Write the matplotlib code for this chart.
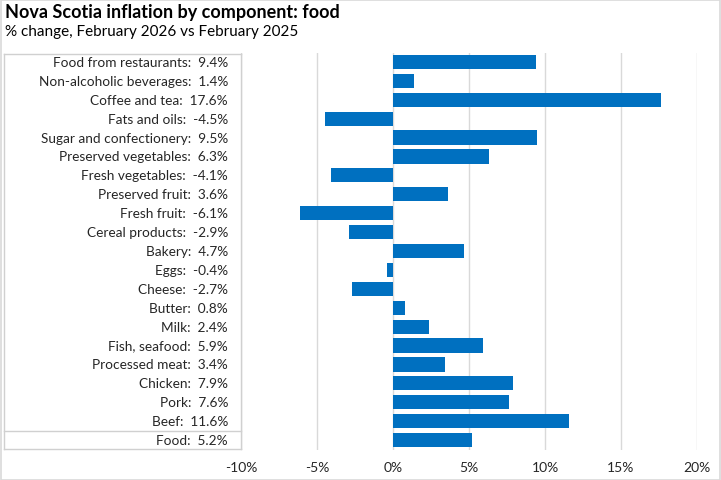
import matplotlib.pyplot as plt
from matplotlib.lines import Line2D

categories = ["Food from restaurants", "Non-alcoholic beverages", "Coffee and tea",
              "Fats and oils", "Sugar and confectionery", "Preserved vegetables",
              "Fresh vegetables", "Preserved fruit", "Fresh fruit", "Cereal products",
              "Bakery", "Eggs", "Cheese", "Butter", "Milk", "Fish, seafood",
              "Processed meat", "Chicken", "Pork", "Beef", "Food"]
values = [9.4, 1.4, 17.6, -4.5, 9.5, 6.3, -4.1, 3.6, -6.1, -2.9, 4.7, -0.4,
          -2.7, 0.8, 2.4, 5.9, 3.4, 7.9, 7.6, 11.6, 5.2]
xticks = [-10, -5, 0, 5, 10, 15, 20]

plt.rcParams['font.family'] = ['Lato', 'DejaVu Sans']

fig = plt.figure(figsize=(7.21, 4.81), dpi=100)
ax = fig.add_axes([241/721, 1 - 450.5/481, (697 - 241)/721, (450.5 - 53.5)/481])

ypos = list(range(len(categories)))
ax.barh(ypos, values, height=0.75, color="#0070C0", zorder=3)
ax.set_ylim(len(categories) - 0.5, -0.5)
ax.set_xlim(-10, 20)
ax.set_xticks(xticks)
ax.set_xticklabels([f"{t}%" for t in xticks], fontsize=10, color="#262626")
ax.grid(axis="x", color="#D9D9D9", linewidth=1, zorder=0)
ax.set_yticks([])
ax.tick_params(axis="x", length=0, pad=8)
for s in ax.spines.values():
    s.set_visible(False)

# labels table on the left
for y, (c, v) in enumerate(zip(categories, values)):
    ax.text(-10.85, y, f"{c}:  {v:.1f}%", ha="right", va="center", fontsize=9.8,
            color="#262626")

lc = "#D0D0D0"
x0, x1 = 4/721, 241/721
yt, yb, ysep = 1 - 55/481, 1 - 450/481, 1 - 432/481
for xs, ys in [([x0, x1], [yt, yt]), ([x0, x1], [yb, yb]), ([x0, x1], [ysep, ysep]),
               ([x0, x0], [yt, yb]), ([x1, x1], [yt, yb])]:
    fig.add_artist(Line2D(xs, ys, color=lc, linewidth=1, transform=fig.transFigure))

# outer border
fig.add_artist(plt.Rectangle((0.5/721, 0.5/481), 719.5/721, 479.5/481, fill=False,
                             edgecolor="#D9D9D9", linewidth=1.2, transform=fig.transFigure))

fig.text(5/721, 1 - 4/481, "Nova Scotia inflation by component: food", fontsize=13,
         fontweight="bold", va="top", ha="left", color="black")
fig.text(5/721, 1 - 25/481, "% change, February 2026 vs February 2025", fontsize=11,
         va="top", ha="left", color="black")

fig.savefig("out.png", dpi=100)
